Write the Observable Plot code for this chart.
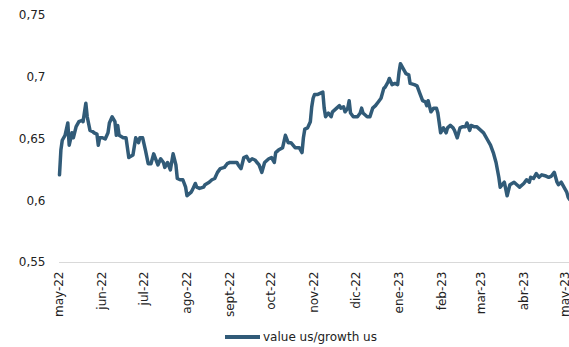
<!DOCTYPE html>
<html>
<head>
<meta charset="utf-8">
<script src="https://cdn.jsdelivr.net/npm/d3@7"></script>
<script src="https://cdn.jsdelivr.net/npm/@observablehq/plot@0.6"></script>
<style>
  html, body { margin: 0; padding: 0; background: #fff; }
  #chart { width: 569px; height: 347px; position: relative; overflow: hidden; font-family: "DejaVu Sans", sans-serif; }
  .legend { position: absolute; left: 225px; top: 328px; height: 18px; display: flex; align-items: center; font-size: 12px; color: #222; }
  .legend .sw { width: 35px; height: 4px; background: #315b78; margin-right: 3px; }
</style>
</head>
<body>
<div id="chart"></div>
<script>
const seriesName = "value us/growth us";
const dates = [
"2022-05-02","2022-05-03","2022-05-04","2022-05-06","2022-05-08","2022-05-09","2022-05-11","2022-05-12","2022-05-14","2022-05-16",
"2022-05-18","2022-05-19","2022-05-21","2022-05-22","2022-05-24","2022-05-26","2022-05-27","2022-05-29","2022-05-30","2022-05-31",
"2022-06-02","2022-06-04","2022-06-06","2022-06-07","2022-06-09","2022-06-11","2022-06-12","2022-06-13","2022-06-14","2022-06-17",
"2022-06-19","2022-06-21","2022-06-24","2022-06-26","2022-06-28","2022-06-29","2022-07-01","2022-07-03","2022-07-05","2022-07-07",
"2022-07-09","2022-07-10","2022-07-12","2022-07-14","2022-07-16","2022-07-17","2022-07-19","2022-07-21","2022-07-23","2022-07-25",
"2022-07-26","2022-07-28","2022-07-30","2022-08-01","2022-08-02","2022-08-05","2022-08-06","2022-08-08","2022-08-09","2022-08-11",
"2022-08-14","2022-08-15","2022-08-18","2022-08-20","2022-08-22","2022-08-24","2022-08-26","2022-08-29","2022-08-31","2022-09-02",
"2022-09-05","2022-09-07","2022-09-08","2022-09-10","2022-09-12","2022-09-14","2022-09-16","2022-09-18","2022-09-20","2022-09-23",
"2022-09-25","2022-09-27","2022-09-30","2022-10-02","2022-10-04","2022-10-05","2022-10-07","2022-10-10","2022-10-12","2022-10-14",
"2022-10-16","2022-10-19","2022-10-22","2022-10-24","2022-10-25","2022-10-26","2022-10-28","2022-10-30","2022-10-31","2022-11-01",
"2022-11-02","2022-11-04","2022-11-06","2022-11-08","2022-11-09","2022-11-10","2022-11-12","2022-11-14","2022-11-15","2022-11-18",
"2022-11-20","2022-11-21","2022-11-23","2022-11-24","2022-11-26","2022-11-27","2022-11-28","2022-11-30","2022-12-03","2022-12-05",
"2022-12-06","2022-12-07","2022-12-09","2022-12-10","2022-12-12","2022-12-14","2022-12-16","2022-12-18","2022-12-20","2022-12-22",
"2022-12-23","2022-12-25","2022-12-26","2022-12-28","2022-12-30","2023-01-01","2023-01-02","2023-01-03","2023-01-05","2023-01-07",
"2023-01-09","2023-01-10","2023-01-13","2023-01-15","2023-01-17","2023-01-19","2023-01-21","2023-01-22","2023-01-23","2023-01-25",
"2023-01-27","2023-01-29","2023-01-30","2023-02-01","2023-02-03","2023-02-05","2023-02-06","2023-02-08","2023-02-10","2023-02-11",
"2023-02-13","2023-02-15","2023-02-17","2023-02-19","2023-02-20","2023-02-22","2023-02-23","2023-02-25","2023-02-27","2023-03-02",
"2023-03-04","2023-03-07","2023-03-09","2023-03-11","2023-03-13","2023-03-15","2023-03-16","2023-03-19","2023-03-21","2023-03-23",
"2023-03-26","2023-03-28","2023-03-30","2023-04-02","2023-04-04","2023-04-06","2023-04-07","2023-04-09","2023-04-11","2023-04-13",
"2023-04-15","2023-04-18","2023-04-20","2023-04-22","2023-04-24","2023-04-26","2023-04-27","2023-04-29","2023-05-01","2023-05-03",
"2023-05-04","2023-05-05"
];
const values = [
0.621,0.641,0.649,0.653,0.663,0.645,0.655,0.651,0.660,0.664,
0.665,0.664,0.679,0.668,0.657,0.656,0.655,0.654,0.645,0.651,
0.651,0.650,0.655,0.663,0.668,0.664,0.653,0.661,0.653,0.651,
0.651,0.635,0.637,0.651,0.647,0.651,0.651,0.641,0.630,0.630,
0.638,0.635,0.629,0.634,0.631,0.627,0.631,0.625,0.638,0.629,
0.618,0.617,0.617,0.611,0.604,0.607,0.609,0.614,0.611,0.610,
0.611,0.613,0.615,0.617,0.618,0.623,0.626,0.627,0.630,0.631,
0.631,0.631,0.629,0.626,0.635,0.636,0.632,0.634,0.633,0.629,
0.623,0.631,0.634,0.635,0.631,0.639,0.641,0.643,0.653,0.647,
0.647,0.643,0.643,0.639,0.651,0.658,0.659,0.664,0.676,0.683,
0.686,0.686,0.687,0.688,0.675,0.668,0.671,0.668,0.672,0.675,
0.677,0.675,0.676,0.672,0.675,0.681,0.671,0.668,0.668,0.671,
0.675,0.671,0.669,0.668,0.668,0.675,0.677,0.680,0.683,0.691,
0.692,0.696,0.699,0.694,0.695,0.694,0.704,0.711,0.707,0.703,
0.702,0.695,0.694,0.693,0.687,0.681,0.680,0.677,0.681,0.672,
0.675,0.675,0.671,0.655,0.659,0.655,0.659,0.661,0.659,0.657,
0.651,0.659,0.660,0.660,0.663,0.657,0.661,0.660,0.660,0.657,
0.655,0.649,0.645,0.639,0.631,0.619,0.611,0.615,0.604,0.613,
0.615,0.613,0.611,0.614,0.617,0.615,0.619,0.618,0.622,0.619,
0.621,0.620,0.619,0.620,0.623,0.615,0.613,0.615,0.611,0.607,
0.603,0.601
];
const tickDates = ["2022-05-02","2022-06-02","2022-07-02","2022-08-02","2022-09-02","2022-10-02","2022-11-02","2022-12-02","2023-01-02","2023-02-02","2023-03-02","2023-04-02","2023-05-02"];
const tickLabels = ["may-22","jun-22","jul-22","ago-22","sept-22","oct-22","nov-22","dic-22","ene-23","feb-23","mar-23","abr-23","may-23"];
const yTicks = [0.55, 0.6, 0.65, 0.7, 0.75];

const data = dates.map((d, i) => ({date: new Date(d), value: values[i]}));
const tickDateObjs = tickDates.map(d => new Date(d));

const chart = Plot.plot({
  width: 569,
  height: 328,
  marginLeft: 59,
  marginRight: 0,
  marginTop: 15,
  marginBottom: 66,
  style: {fontFamily: "DejaVu Sans, sans-serif", fontSize: "12px", color: "#222", background: "white", overflow: "visible"},
  x: {
    type: "utc",
    domain: [new Date("2022-05-02"), new Date("2023-05-05")],
    ticks: tickDateObjs,
    tickFormat: d => tickLabels[tickDateObjs.findIndex(t => +t === +d)],
    tickRotate: -90,
    tickSize: 0,
    tickPadding: 9,
    label: null
  },
  y: {
    domain: [0.55, 0.75],
    ticks: yTicks,
    tickFormat: d => String(d).replace(".", ","),
    tickSize: 0,
    tickPadding: 14,
    label: null
  },
  marks: [
    Plot.ruleY([0.55], {stroke: "#d9d9d9", strokeWidth: 1}),
    Plot.lineY(data, {x: "date", y: "value", stroke: "#315b78", strokeWidth: 3.5, strokeLinejoin: "round", strokeLinecap: "round"})
  ]
});
const root = document.getElementById("chart");
root.appendChild(chart);
const leg = document.createElement("div");
leg.className = "legend";
leg.innerHTML = '<span class="sw"></span><span></span>';
leg.lastChild.textContent = seriesName;
root.appendChild(leg);
</script>
</body>
</html>
